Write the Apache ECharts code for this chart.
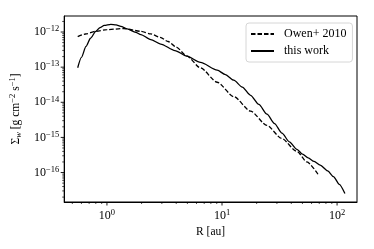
<!DOCTYPE html>
<html><head><meta charset="utf-8">
<script src="https://cdn.jsdelivr.net/npm/echarts@6/dist/echarts.min.js"></script>
<style>html,body{margin:0;padding:0;background:#fff}#c{width:374px;height:249px}</style>
</head><body><div id="c"></div>
<script>
// Owen+ 2010 (dashed)
const owenR = [0.557, 0.65, 0.8, 1.0, 1.4, 1.97, 2.4, 2.9, 3.4, 4.0, 4.93, 6.5, 9.08, 12.65, 17.7, 24.6, 33, 44.8, 54.7, 68.9];
const owenS = [7.41e-13, 8.79e-13, 1.05e-12, 1.17e-12, 1.26e-12, 1.05e-12, 8.91e-13, 7.08e-13, 5.37e-13, 3.72e-13, 2.09e-13, 9.55e-14, 3.72e-14, 1.45e-14, 5.62e-15, 2.19e-15, 9.33e-16, 3.98e-16, 2.0e-16, 8.51e-17];
// this work (solid)
const workR = [0.557, 0.6, 0.658, 0.72, 0.8, 0.87, 0.948, 1.08, 1.2, 1.32, 1.5, 1.78, 1.97, 2.4, 2.93, 3.9, 4.93, 6.5, 9.08, 10.7, 12.65, 15.0, 17.7, 20.9, 24.6, 28.6, 33.2, 38.5, 44.8, 50.1, 56.1, 63.1, 71.3, 83, 93, 104.5, 117];
const workS = [9.62e-14, 1.91e-13, 3.89e-13, 6.65e-13, 1.05e-12, 1.34e-12, 1.55e-12, 1.66e-12, 1.60e-12, 1.45e-12, 1.23e-12, 9.79e-13, 8.49e-13, 6.11e-13, 4.55e-13, 2.97e-13, 2.07e-13, 1.37e-13, 8.26e-14, 6.12e-14, 4.26e-14, 2.70e-14, 1.58e-14, 8.69e-15, 4.59e-15, 2.48e-15, 1.32e-15, 7.50e-16, 4.57e-16, 3.33e-16, 2.60e-16, 2.08e-16, 1.63e-16, 1.11e-16, 7.67e-17, 4.63e-17, 2.52e-17];

const xMajorTicks = [1, 10, 100];
const xMinorTicks = [0.5, 0.6, 0.7, 0.8, 0.9, 2, 3, 4, 5, 6, 7, 8, 9, 20, 30, 40, 50, 60, 70, 80, 90];
const yMajorTicks = [1e-16, 1e-15, 1e-14, 1e-13, 1e-12];
const yMinorTicks = [2e-17, 3e-17, 4e-17, 5e-17, 6e-17, 7e-17, 8e-17, 9e-17,
  2e-16, 3e-16, 4e-16, 5e-16, 6e-16, 7e-16, 8e-16, 9e-16,
  2e-15, 3e-15, 4e-15, 5e-15, 6e-15, 7e-15, 8e-15, 9e-15,
  2e-14, 3e-14, 4e-14, 5e-14, 6e-14, 7e-14, 8e-14, 9e-14,
  2e-13, 3e-13, 4e-13, 5e-13, 6e-13, 7e-13, 8e-13, 9e-13, 2e-12];
const xMin = 0.425, xMax = 149, yMin = 1.45e-17, yMax = 2.86e-12;

const FONT = '"Liberation Serif", "Times New Roman", serif';
function sup(v) {
  const e = Math.log10(v);
  const r = Math.round(e);
  if (Math.abs(e - r) > 1e-6) return '';
  return '{b|10}{s|' + (r < 0 ? '\u2212' + (-r) : r) + '}';
}
const richTick = {
  b: { fontSize: 12, fontFamily: FONT, color: '#000', lineHeight: 15 },
  s: { fontSize: 8.5, fontFamily: FONT, color: '#000', lineHeight: 9, verticalAlign: 'top' }
};

function tickSeries(data, horizontal) {
  return {
    type: 'custom', silent: true, clip: false, z: 10, animation: false,
    data: data,
    renderItem: function (params, api) {
      const p = api.coord([api.value(0), api.value(1)]);
      const len = api.value(2) ? 3.5 : 2;
      const shape = horizontal
        ? { x1: p[0], y1: p[1], x2: p[0], y2: p[1] + len }
        : { x1: p[0], y1: p[1], x2: p[0] - len, y2: p[1] };
      return { type: 'line', shape: shape, style: { stroke: '#000', lineWidth: api.value(2) ? 0.9 : 0.7 } };
    }
  };
}

const chart = echarts.init(document.getElementById('c'), null, { renderer: 'canvas' });
chart.setOption({
  animation: false,
  backgroundColor: '#fff',
  grid: { left: 63, right: 17, top: 16, bottom: 47, show: true, borderColor: '#000', borderWidth: 1, backgroundColor: 'transparent' },
  legend: {
    orient: 'vertical', left: 246, top: 23,
    data: ['Owen+ 2010', 'this work'],
    itemWidth: 23, itemHeight: 12, itemGap: 5,
    padding: [5, 6, 5, 4],
    backgroundColor: '#fff', borderColor: '#d6d6d6', borderWidth: 1, borderRadius: 3,
    itemStyle: { opacity: 0 },
    textStyle: { fontFamily: FONT, fontSize: 12, color: '#000', padding: [0, 0, 0, 5] }
  },
  xAxis: {
    type: 'log', logBase: 10, min: xMin, max: xMax,
    axisLine: { show: true, lineStyle: { color: '#000', width: 1 } },
    axisTick: { show: false }, splitLine: { show: false }, minorTick: { show: false },
    axisLabel: { formatter: sup, rich: richTick, margin: 6, showMinLabel: false, showMaxLabel: false },
    name: 'R [au]', nameLocation: 'middle', nameGap: 21,
    nameTextStyle: { fontFamily: FONT, fontSize: 11.5, color: '#000' }
  },
  yAxis: {
    type: 'log', logBase: 10, min: yMin, max: yMax,
    axisLine: { show: true, lineStyle: { color: '#000', width: 1 } },
    axisTick: { show: false }, splitLine: { show: false }, minorTick: { show: false },
    axisLabel: { formatter: sup, rich: richTick, margin: 5, showMinLabel: false, showMaxLabel: false },
    name: '{a|\u03A3}{w|w}{a| [g cm}{s|\u22122}{a| s}{s|\u22121}{a|]}',
    nameLocation: 'middle', nameGap: 35, nameRotate: 90,
    nameTextStyle: {
      rich: {
        a: { fontFamily: FONT, fontSize: 11.5, color: '#000', lineHeight: 15 },
        w: { fontFamily: FONT, fontSize: 8.5, fontStyle: 'italic', color: '#000', lineHeight: 9, verticalAlign: 'bottom' },
        s: { fontFamily: FONT, fontSize: 8.5, color: '#000', lineHeight: 9, verticalAlign: 'top' }
      }
    }
  },
  series: [
    {
      name: 'Owen+ 2010', type: 'line', showSymbol: false, symbol: 'none', smooth: 0.25, smoothMonotone: 'x',
      data: owenR.map((r, i) => [r, owenS[i]]),
      lineStyle: { color: '#000', width: 1.3, type: [4.5, 2] }, itemStyle: { color: '#000' }
    },
    {
      name: 'this work', type: 'line', showSymbol: false, symbol: 'none', smooth: 0.25, smoothMonotone: 'x',
      data: workR.map((r, i) => [r, workS[i]]),
      lineStyle: { color: '#000', width: 1.3 }, itemStyle: { color: '#000' }
    },
    tickSeries(xMajorTicks.map(v => [v, yMin, 1]).concat(xMinorTicks.map(v => [v, yMin, 0])), true),
    tickSeries(yMajorTicks.map(v => [xMin, v, 1]).concat(yMinorTicks.map(v => [xMin, v, 0])), false)
  ]
});
</script>
</body></html>
